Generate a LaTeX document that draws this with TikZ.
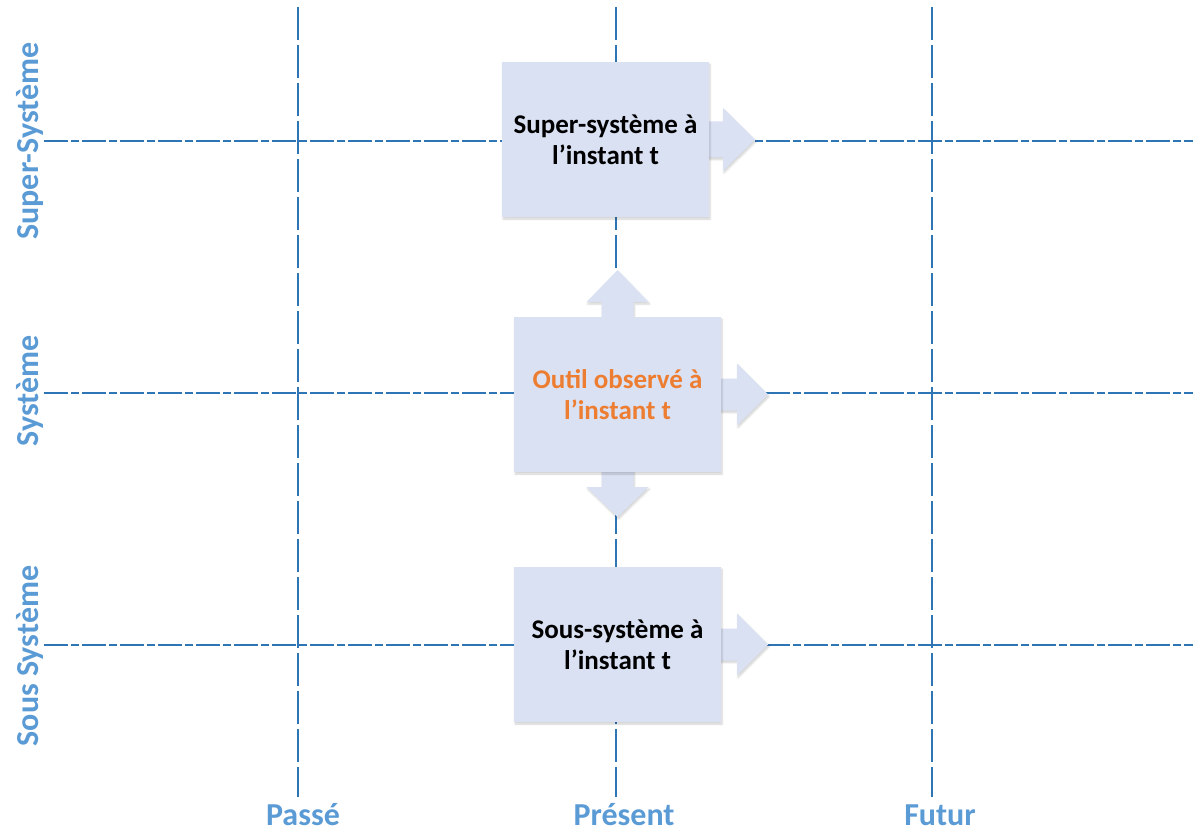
\documentclass[tikz,border=0pt]{standalone}
\usepackage{fontspec}
\setmainfont{Carlito}
\usetikzlibrary{shadows.blur}
\definecolor{gridblue}{HTML}{2E75B6}
\definecolor{labelblue}{HTML}{5B9BD5}
\definecolor{boxfill}{HTML}{DAE1F3}
\definecolor{toolorange}{HTML}{ED7D31}
\begin{document}
\begin{tikzpicture}[x=1pt,y=-1pt,
  hline/.style={draw=gridblue,line width=2.4pt,dash pattern=on 24pt off 3pt on 8pt off 3pt},
  vline/.style={draw=gridblue,line width=2.4pt,dash pattern=on 33pt off 5pt},
  soft/.style={blur shadow={shadow xshift=1pt,shadow yshift=-2pt,shadow blur steps=6,shadow opacity=18}},
  statebox/.style={fill=boxfill,draw=none,minimum width=207pt,minimum height=155pt,
    align=center,font=\fontsize{27}{31}\selectfont\bfseries,text=black,soft},
  flow/.style={fill=boxfill,draw=none,soft},
  axislabel/.style={font=\fontsize{32}{36}\selectfont\bfseries,text=labelblue}]
\useasboundingbox (0,0) rectangle (1193,834);

% grid coordinates: three levels, three times
\coordinate (h1w) at (44,141);  \coordinate (h1e) at (1193,141);
\coordinate (h2w) at (44,393);  \coordinate (h2e) at (1193,393);
\coordinate (h3w) at (44,645);  \coordinate (h3e) at (1193,645);
\coordinate (v1n) at (298,7);   \coordinate (v1s) at (298,797);
\coordinate (v2n) at (616,7);   \coordinate (v2s) at (616,797);
\coordinate (v3n) at (932,7);   \coordinate (v3s) at (932,797);

% box centres (boxes are 207 x 155)
\coordinate (supC) at (605.5,139.5);
\coordinate (sysC) at (617.5,394.5);
\coordinate (subC) at (617.5,644.5);

\draw[hline] (h1w) -- (h1e);
\draw[hline] (h2w) -- (h2e);
\draw[hline] (h3w) -- (h3e);
\draw[vline] (v1n) -- (v1s);
\draw[vline] (v2n) -- (v2s);
\draw[vline] (v3n) -- (v3s);

% block arrows leaving the boxes; tails tucked under the boxes drawn next
\fill[flow,shift={(supC)}]
  (95,-18) -- (117.5,-18) -- (117.5,-31.5) -- (149.5,0) -- (117.5,31.5) -- (117.5,18) -- (95,18) -- cycle;
\fill[flow,shift={(sysC)}]
  (95,-16) -- (119.5,-16) -- (119.5,-31) -- (150.5,0) -- (119.5,31) -- (119.5,16) -- (95,16) -- cycle;
\fill[flow,shift={(subC)}]
  (95,-16) -- (119.5,-16) -- (119.5,-31) -- (150.5,0) -- (119.5,31) -- (119.5,16) -- (95,16) -- cycle;
\fill[flow,shift={(sysC)}]
  (-16,-70) -- (-16,-92.5) -- (-31,-92.5) -- (0,-124.5) -- (31,-92.5) -- (16,-92.5) -- (16,-70) -- cycle;
\fill[flow,shift={(sysC)}]
  (-16,70) -- (-16,92.5) -- (-31,92.5) -- (0,122.5) -- (31,92.5) -- (16,92.5) -- (16,70) -- cycle;

% state boxes
\node[statebox] (sup) at (supC) {Super-système à\\l’instant t};
\node[statebox,text=toolorange] (sys) at (sysC) {Outil observé à\\l’instant t};
\node[statebox] (sub) at (subC) {Sous-système à\\l’instant t};

% axis labels
\node[axislabel] (past) at (303,815) {Passé};
\node[axislabel] (now) at (624,815) {Présent};
\node[axislabel] (fut) at (940,815) {Futur};
\node[axislabel,rotate=90] (lSup) at (30,141) {Super-Système};
\node[axislabel,rotate=90] (lSys) at (30,391) {Système};
\node[axislabel,rotate=90] (lSub) at (30,656) {Sous Système};
\end{tikzpicture}
\end{document}
